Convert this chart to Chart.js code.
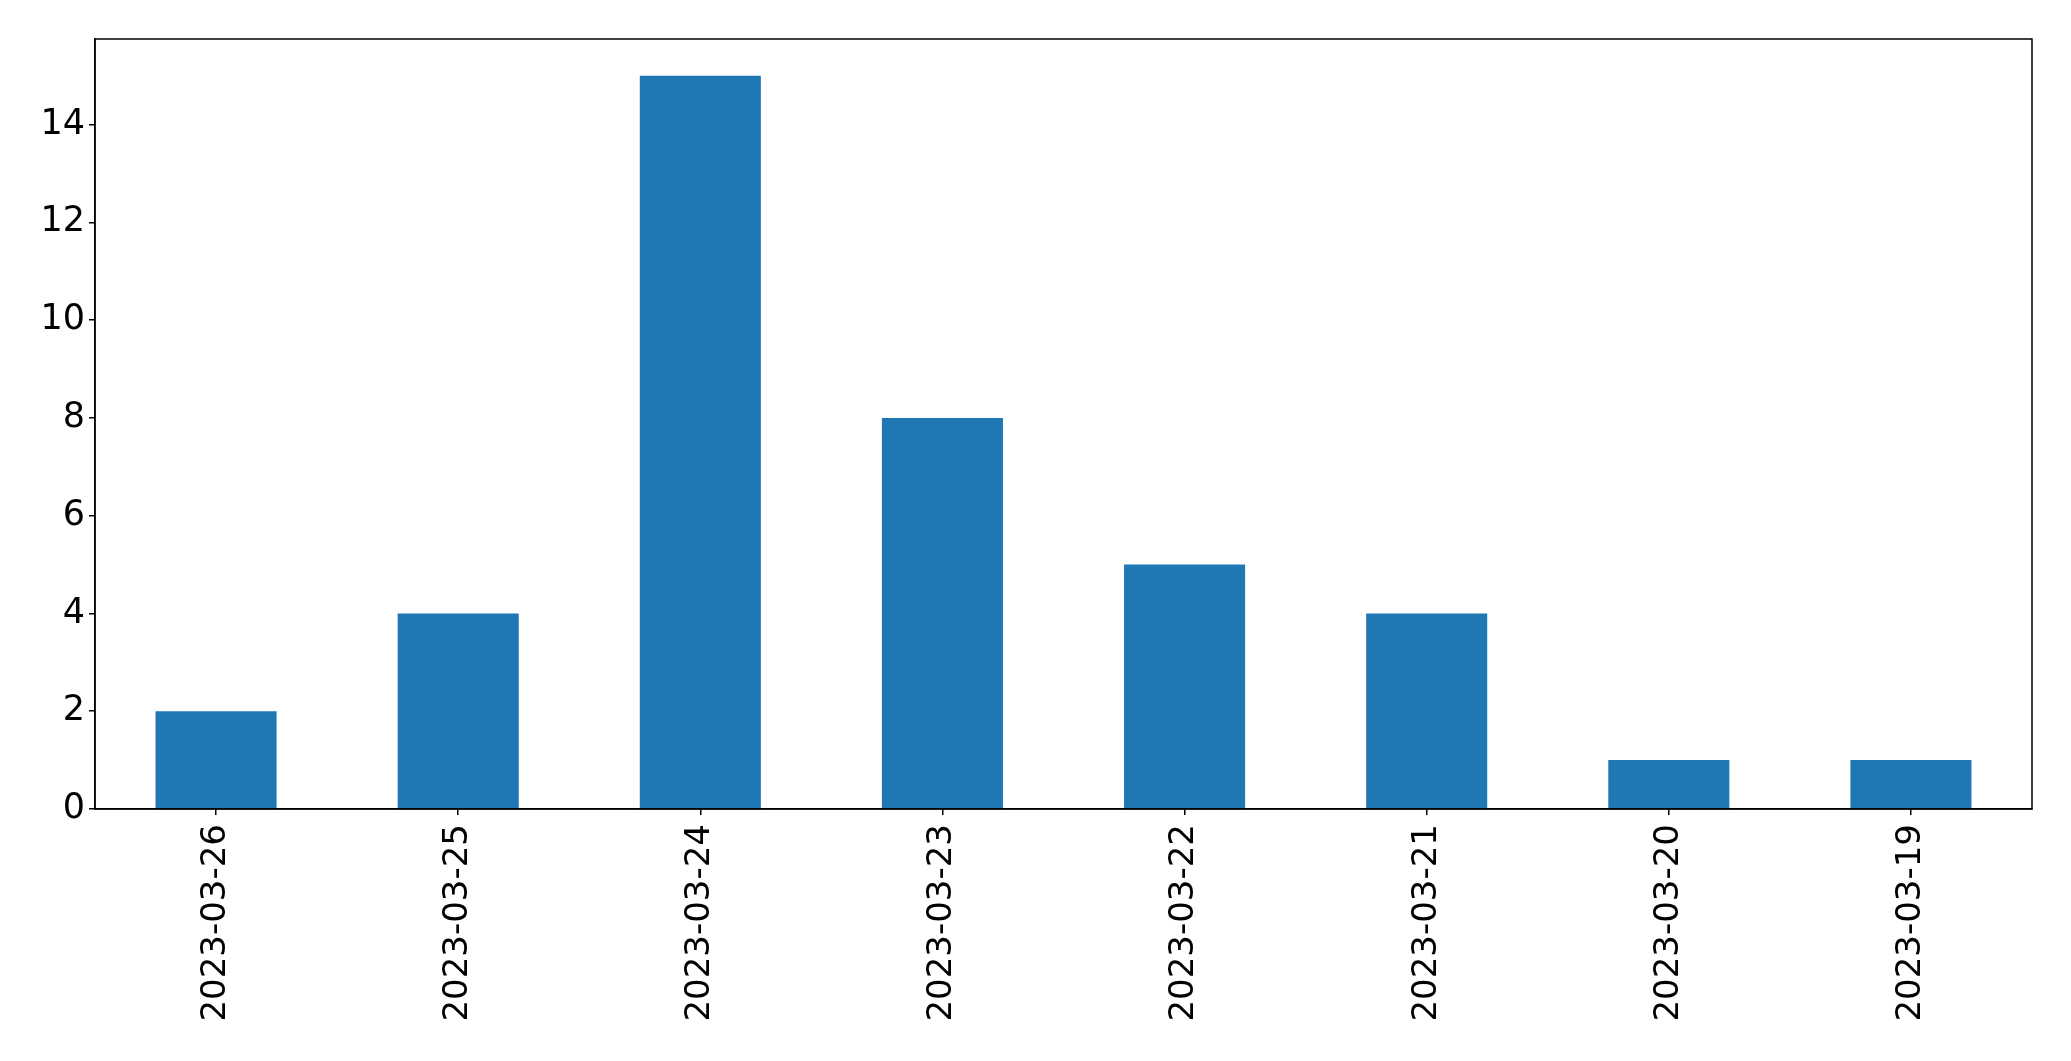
<!DOCTYPE html>
<html>
<head>
<meta charset="utf-8">
<script src="https://cdn.jsdelivr.net/npm/chart.js@4.4.0/dist/chart.umd.min.js"></script>
<style>
  html, body { margin: 0; padding: 0; background: #fff; }
  #wrap { width: 2071px; height: 1061px; }
</style>
</head>
<body>
<div id="wrap"><canvas id="chart"></canvas></div>
<script>
// data
const dates = ["2023-03-26", "2023-03-25", "2023-03-24", "2023-03-23", "2023-03-22", "2023-03-21", "2023-03-20", "2023-03-19"];
const counts = [2, 4, 15, 8, 5, 4, 1, 1];
const yMax = 15.75;

// draw the full box around the plot area (matplotlib style spines)
const frame = {
  id: "frame",
  afterDraw(chart) {
    const { ctx, chartArea: a } = chart;
    ctx.save();
    ctx.strokeStyle = "#000";
    ctx.lineWidth = 1.5;
    ctx.strokeRect(a.left, a.top, a.right - a.left, a.bottom - a.top);
    ctx.restore();
  }
};

new Chart(document.getElementById("chart"), {
  type: "bar",
  data: {
    labels: dates,
    datasets: [{
      data: counts,
      backgroundColor: "#1f77b4",
      borderWidth: 0,
      barPercentage: 0.5,
      categoryPercentage: 1.0
    }]
  },
  options: {
    responsive: true,
    maintainAspectRatio: false,
    animation: false,
    layout: { padding: { top: 39, right: 39, left: 0, bottom: 0 } },
    plugins: { legend: { display: false }, tooltip: { enabled: false } },
    scales: {
      x: {
        grid: { display: true, offset: false, drawOnChartArea: false, drawTicks: true, tickLength: 6, color: "#000", lineWidth: 1.5 },
        border: { display: true, color: "#000", width: 1.5 },
        ticks: {
          color: "#000",
          font: { family: "DejaVu Sans", size: 34 },
          minRotation: 90,
          maxRotation: 90,
          padding: 9,
          autoSkip: false
        },
        afterFit(scale) { scale.height = 252; }
      },
      y: {
        min: 0,
        max: yMax,
        grid: { display: true, drawOnChartArea: false, drawTicks: true, tickLength: 6, color: "#000", lineWidth: 1.5 },
        border: { display: true, color: "#000", width: 1.5 },
        ticks: {
          stepSize: 2,
          includeBounds: false,
          color: "#000",
          font: { family: "DejaVu Sans", size: 35 },
          padding: 4
        },
        afterFit(scale) { scale.width = 95; }
      }
    }
  },
  plugins: [frame]
});
</script>
</body>
</html>
